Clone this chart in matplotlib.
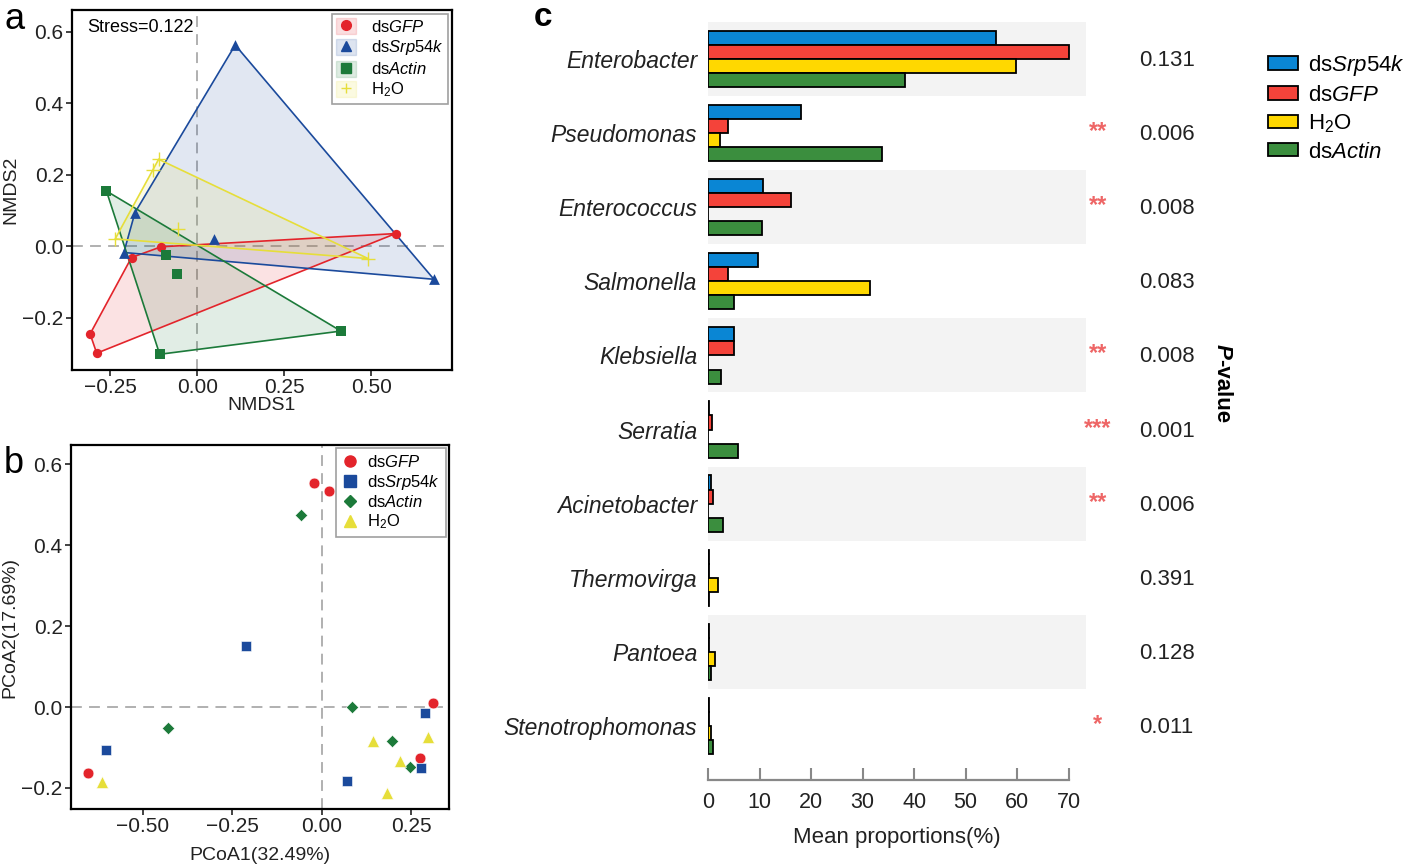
import numpy as np
import matplotlib
matplotlib.use("Agg")
import matplotlib.pyplot as plt
from matplotlib.patches import Patch
from matplotlib.lines import Line2D

plt.rcParams['font.family'] = ['Liberation Sans', 'DejaVu Sans']
plt.rcParams['mathtext.fontset'] = 'custom'
plt.rcParams['mathtext.rm'] = 'Liberation Sans'
plt.rcParams['mathtext.it'] = 'Liberation Sans:italic'
plt.rcParams['mathtext.bf'] = 'Liberation Sans:bold'

# ---------------- data ----------------
# panel a : NMDS
nmds_groups = ["dsGFP", "dsSrp54k", "dsActin", "H2O"]
nmds_gfp_x = [0.570, -0.104, -0.189, -0.308, -0.289]
nmds_gfp_y = [0.035, -0.002, -0.032, -0.246, -0.300]
nmds_srp_x = [0.109, -0.179, -0.211, 0.047, 0.680]
nmds_srp_y = [0.563, 0.094, -0.018, 0.021, -0.093]
nmds_act_x = [-0.261, -0.091, -0.059, 0.413, -0.108]
nmds_act_y = [0.154, -0.026, -0.078, -0.238, -0.303]
nmds_h2o_x = [-0.111, -0.126, -0.236, -0.055, 0.491]
nmds_h2o_y = [0.243, 0.213, 0.020, 0.049, -0.035]
stress = 0.122

# panel b : PCoA
pcoa_gfp_x = [-0.021, 0.021, 0.312, 0.275, -0.652]
pcoa_gfp_y = [0.553, 0.534, 0.011, -0.127, -0.164]
pcoa_srp_x = [-0.211, 0.290, 0.277, 0.072, -0.603]
pcoa_srp_y = [0.152, -0.014, -0.150, -0.182, -0.107]
pcoa_act_x = [-0.057, 0.086, 0.197, 0.247, -0.428]
pcoa_act_y = [0.474, 0.000, -0.085, -0.147, -0.052]
pcoa_h2o_x = [0.144, 0.296, 0.220, 0.182, -0.613]
pcoa_h2o_y = [-0.085, -0.073, -0.134, -0.212, -0.185]

# panel c : mean proportions (%)
genera = ["Enterobacter", "Pseudomonas", "Enterococcus", "Salmonella", "Klebsiella",
          "Serratia", "Acinetobacter", "Thermovirga", "Pantoea", "Stenotrophomonas"]
prop_srp = [55.9, 18.0, 10.7, 9.6, 5.0, 0.1, 0.6, 0.05, 0.05, 0.1]
prop_gfp = [70.0, 3.75, 16.0, 3.9, 4.9, 0.8, 0.85, 0.05, 0.05, 0.05]
prop_h2o = [59.8, 2.26, 0.0, 31.4, 0.0, 0.0, 0.0, 1.9, 1.3, 0.6]
prop_act = [38.3, 33.8, 10.5, 5.0, 2.4, 5.8, 2.8, 0.05, 0.6, 1.0]
pvalues = ["0.131", "0.006", "0.008", "0.083", "0.008", "0.001", "0.006", "0.391", "0.128", "0.011"]
stars = ["", "**", "**", "", "**", "***", "**", "", "", "*"]


def hull(xs, ys):
    pts = sorted(set(zip(xs, ys)))
    def cross(o, a, b):
        return (a[0]-o[0])*(b[1]-o[1]) - (a[1]-o[1])*(b[0]-o[0])
    lower, upper = [], []
    for p in pts:
        while len(lower) >= 2 and cross(lower[-2], lower[-1], p) <= 0:
            lower.pop()
        lower.append(p)
    for p in reversed(pts):
        while len(upper) >= 2 and cross(upper[-2], upper[-1], p) <= 0:
            upper.pop()
        upper.append(p)
    return np.array(lower[:-1] + upper[:-1])


W, H = 1418, 867
fig = plt.figure(figsize=(W/100, H/100), dpi=100)

def px_axes(l, t, r, b):
    return fig.add_axes([l/W, 1-b/H, (r-l)/W, (b-t)/H])

red, blue, green, yellow = "#E3242B", "#1B4A9C", "#1C7A3A", "#E6DE3A"
labs = ["ds$\\it{GFP}$", "ds$\\it{Srp54k}$", "ds$\\it{Actin}$", "H$_2$O"]

# ---------------- panel a ----------------
ax = px_axes(72, 10, 452, 370)
sets_a = [(nmds_gfp_x, nmds_gfp_y, red, 'o', 45),
          (nmds_srp_x, nmds_srp_y, blue, '^', 60),
          (nmds_act_x, nmds_act_y, green, 's', 42),
          (nmds_h2o_x, nmds_h2o_y, yellow, '+', 100)]
ax.axhline(0, color="#AAAAAA", ls=(0, (6, 4)), lw=1.3, zorder=1)
ax.axvline(0, color="#AAAAAA", ls=(0, (6, 4)), lw=1.3, zorder=1)
for xs, ys, c, m, s in sets_a:
    h = hull(xs, ys)
    ax.fill(h[:, 0], h[:, 1], facecolor=c, alpha=0.13, edgecolor='none', zorder=2)
    ax.fill(h[:, 0], h[:, 1], facecolor='none', edgecolor=c, lw=1.2, zorder=3)
    ax.scatter(xs, ys, c=c, marker=m, s=s, zorder=4, linewidths=1.0 if m == '+' else 0)
ax.set_xlim(-0.36, 0.732)
ax.set_ylim(-0.347, 0.661)
ax.set_xticks([-0.25, 0, 0.25, 0.5])
ax.set_xticklabels(["\u22120.25", "0.00", "0.25", "0.50"])
ax.set_yticks([-0.2, 0, 0.2, 0.4, 0.6])
ax.set_yticklabels(["\u22120.2", "0.0", "0.2", "0.4", "0.6"])
ax.set_xlabel("NMDS1", fontsize=14, labelpad=0, color="#222222")
ax.set_ylabel("NMDS2", fontsize=14, labelpad=2, color="#222222")
ax.text(0.04, 0.975, "Stress=%.3f" % stress, transform=ax.transAxes, fontsize=13, va='top')
handles = []
for (xs, ys, c, m, s) in sets_a:
    handles.append((Patch(facecolor=c, alpha=0.15, edgecolor=c),
                    Line2D([], [], color=c, marker=m, ls='none', markersize=7, mew=1.0)))
leg = ax.legend(handles, labs, loc='upper right', fontsize=12, frameon=True, fancybox=False,
                edgecolor="#888888", handlelength=1.2, handleheight=1.1, borderpad=0.25,
                labelspacing=0.2, handletextpad=0.9, borderaxespad=0.25)
leg.get_frame().set_linewidth(1.2)

# ---------------- panel b ----------------
bx = px_axes(71, 445, 449, 809)
sets_b = [(pcoa_gfp_x, pcoa_gfp_y, red, 'o', 60),
          (pcoa_srp_x, pcoa_srp_y, blue, 's', 42),
          (pcoa_act_x, pcoa_act_y, green, 'D', 40),
          (pcoa_h2o_x, pcoa_h2o_y, yellow, '^', 75)]
bx.axhline(0, color="#AAAAAA", ls=(0, (6, 4)), lw=1.3, zorder=1)
bx.axvline(0, color="#AAAAAA", ls=(0, (6, 4)), lw=1.3, zorder=1)
for xs, ys, c, m, s in sets_b:
    bx.scatter(xs, ys, c=c, marker=m, s=s, zorder=4, edgecolors='white', linewidths=0.4)
bx.set_xlim(-0.70, 0.356)
bx.set_ylim(-0.252, 0.648)
bx.set_xticks([-0.5, -0.25, 0, 0.25])
bx.set_xticklabels(["\u22120.50", "\u22120.25", "0.00", "0.25"])
bx.set_yticks([-0.2, 0, 0.2, 0.4, 0.6])
bx.set_yticklabels(["\u22120.2", "0.0", "0.2", "0.4", "0.6"])
bx.set_xlabel("PCoA1(32.49%)", fontsize=14, labelpad=8, color="#222222")
bx.set_ylabel("PCoA2(17.69%)", fontsize=14, labelpad=2, color="#222222")
handles_b = [Line2D([], [], color=c, marker=m, ls='none', markersize=8 if m != 'D' else 6.5)
             for (xs, ys, c, m, s) in sets_b]
leg = bx.legend(handles_b, labs, loc='upper right', fontsize=12, frameon=True, fancybox=False,
                edgecolor="#888888", handlelength=1.0, borderpad=0.35, labelspacing=0.15,
                handletextpad=0.5, borderaxespad=0.2)
leg.get_frame().set_linewidth(1.2)

for a_ in (ax, bx):
    for sp in a_.spines.values():
        sp.set_linewidth(1.6)
    a_.tick_params(labelsize=15, length=4, width=1.2, colors="#222222", pad=2)

# ---------------- panel c ----------------
cx = px_axes(708.3, 22, 1086, 780)
cols_c = ["#0A86D4", "#F4433A", "#FFD800", "#3B8E3E"]
series = [prop_srp, prop_gfp, prop_h2o, prop_act]
names_c = ["ds$\\it{Srp54k}$", "ds$\\it{GFP}$", "H$_2$O", "ds$\\it{Actin}$"]
n = len(genera)
y = np.arange(n)
bh = 0.19
for i in range(0, n, 2):
    cx.axhspan(i - 0.5, i + 0.5, xmin=0, xmax=1, color="#F3F3F3", lw=0, zorder=0)
for k, (vals, c) in enumerate(zip(series, cols_c)):
    cx.barh(y - 1.5*bh + k*bh, vals, height=bh, color=c, edgecolor='black', linewidth=1.3,
            zorder=3, label=names_c[k])
cx.set_xlim(0, 73.4)
cx.set_ylim(9.73, -0.5)
cx.set_yticks(y)
cx.set_yticklabels(genera, fontsize=16.5, style='italic', color="#222222")
cx.tick_params(axis='y', length=0, pad=8)
cx.set_xticks(np.arange(0, 71, 10))
cx.tick_params(axis='x', direction='in', length=9, width=1.5, color="#888888",
               labelsize=15.5, pad=9, labelcolor="#222222")
for s_ in ['left', 'top', 'right']:
    cx.spines[s_].set_visible(False)
cx.spines['bottom'].set_bounds(0, 70)
cx.spines['bottom'].set_color("#888888")
cx.spines['bottom'].set_linewidth(1.6)
cx.set_xlabel("Mean proportions(%)", fontsize=16, labelpad=10, color="#222222")
for i in range(n):
    cx.text(75.7, i - 0.02, stars[i], color="#EE6666", fontsize=17, fontweight='bold',
            ha='center', va='center', clip_on=False)
    cx.text(83.7, i + 0.02, pvalues[i], fontsize=16, ha='left', va='center', clip_on=False,
            color="#222222")
t1 = fig.text(1222/W, 1 - 344/H, "P", fontsize=16, fontweight='bold', style='italic',
              rotation=-90, ha='center', va='top')
cx.annotate("-value", xy=(0.5, 0), xycoords=t1, fontsize=16, fontweight='bold',
            rotation=-90, ha='center', va='top', annotation_clip=False)
lg = fig.legend(loc='upper left', bbox_to_anchor=(1268/W, 1 - 53/H), fontsize=16,
                frameon=False, handlelength=1.35, handleheight=0.55, labelspacing=0.3,
                handletextpad=0.45, borderpad=0, borderaxespad=0)

fig.text(4/W, 1 - 2/H, "a", fontsize=26, va='top')
fig.text(4/W, 1 - 446/H, "b", fontsize=26, va='top')
fig.text(534/W, 1 - 2/H, "c", fontsize=24, fontweight='bold', va='top')

fig.savefig("out.png", dpi=100)
